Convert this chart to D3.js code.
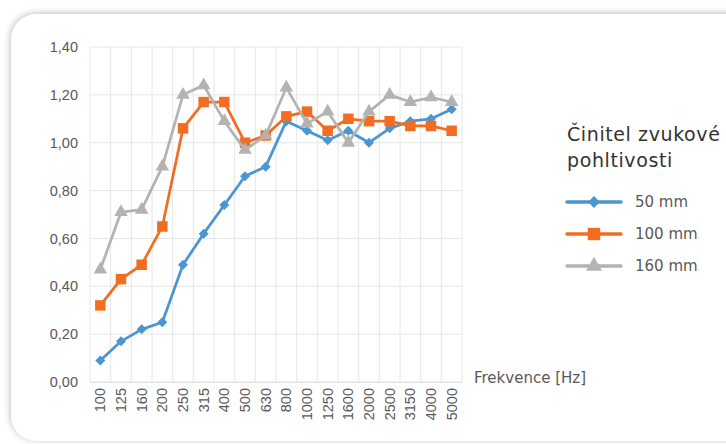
<!DOCTYPE html>
<html>
<head>
<meta charset="utf-8">
<script src="https://cdn.jsdelivr.net/npm/d3@7"></script>
<style>
  body { margin: 0; background: #fff; }
  svg { display: block; font-family: "DejaVu Sans", sans-serif; }
</style>
</head>
<body>
<svg></svg>
<script>
// Chart dimensions
const width = 726;
const height = 444;

// Data
const freqs = ["100", "125", "160", "200", "250", "315", "400", "500", "630", "800",
    "1000", "1250", "1600", "2000", "2500", "3150", "4000", "5000"];
const mm50 = [0.09, 0.17, 0.22, 0.25, 0.49, 0.62, 0.74, 0.86, 0.90, 1.09,
    1.05, 1.01, 1.05, 1.00, 1.06, 1.09, 1.10, 1.14];
const mm100 = [0.32, 0.43, 0.49, 0.65, 1.06, 1.17, 1.17, 1.00, 1.03, 1.11,
    1.13, 1.05, 1.10, 1.09, 1.09, 1.07, 1.07, 1.05];
const mm160 = [0.47, 0.71, 0.72, 0.90, 1.20, 1.24, 1.09, 0.97, 1.03, 1.23,
    1.08, 1.13, 1.00, 1.13, 1.20, 1.17, 1.19, 1.17];
const seriesNames = ["50 mm", "100 mm", "160 mm"];
const yTicks = [0, 0.2, 0.4, 0.6, 0.8, 1.0, 1.2, 1.4];

const series = [
    { name: seriesNames[0], values: mm50, color: "#4a96d2", symbol: d3.symbolSquare, size: 50, rot: 45 },
    { name: seriesNames[1], values: mm100, color: "#f26c21", symbol: d3.symbolSquare, size: 110, rot: 0 },
    { name: seriesNames[2], values: mm160, color: "#b3b3b3", symbol: d3.symbolTriangle, size: 80, rot: 0 }
];

const svg = d3.select("svg")
    .attr("width", width)
    .attr("height", height);

// Card with shadow
const defs = svg.append("defs");
const filter = defs.append("filter").attr("id", "shadow")
    .attr("x", "-10%").attr("y", "-10%").attr("width", "130%").attr("height", "130%");
filter.append("feDropShadow")
    .attr("dx", -1).attr("dy", -1)
    .attr("stdDeviation", 3)
    .attr("flood-color", "#000")
    .attr("flood-opacity", 0.25);

svg.append("rect")
    .attr("x", 11).attr("y", 14)
    .attr("width", 760).attr("height", 427)
    .attr("rx", 26).attr("ry", 26)
    .attr("fill", "#fff")
    .attr("filter", "url(#shadow)");

// Plot area
const margin = { left: 90, top: 47, right: 462, bottom: 382 };

const x = d3.scaleBand()
    .domain(freqs)
    .range([margin.left, margin.right]);

const y = d3.scaleLinear()
    .domain([0, 1.4])
    .range([margin.bottom, margin.top]);

const fmt = v => d3.format(".2f")(v).replace(".", ",");

// Grid
const grid = svg.append("g");
grid.selectAll(".hgrid")
    .data(yTicks)
    .enter()
    .append("line")
    .attr("x1", margin.left).attr("x2", margin.right)
    .attr("y1", d => y(d)).attr("y2", d => y(d))
    .style("stroke", "#e6e6e6")
    .style("stroke-width", 1);

grid.selectAll(".vgrid")
    .data(freqs.concat(["end"]))
    .enter()
    .append("line")
    .attr("x1", (d, i) => i < freqs.length ? x(d) : margin.right)
    .attr("x2", (d, i) => i < freqs.length ? x(d) : margin.right)
    .attr("y1", margin.top).attr("y2", margin.bottom)
    .style("stroke", "#e6e6e6")
    .style("stroke-width", 1);

// Y axis
const yAxis = svg.append("g")
    .attr("transform", `translate(${margin.left - 9},0)`)
    .call(d3.axisLeft(y).tickValues(yTicks).tickFormat(fmt).tickSize(0));
yAxis.select(".domain").remove();
yAxis.selectAll("text")
    .style("font-size", "14.5px")
    .style("fill", "#595959");

// X axis
const xAxis = svg.append("g")
    .attr("transform", `translate(0,${margin.bottom})`)
    .call(d3.axisBottom(x).tickSize(0));
xAxis.select(".domain").style("stroke", "#e0e0e0");
xAxis.selectAll("text")
    .attr("transform", "rotate(-90)")
    .attr("text-anchor", "end")
    .attr("x", -6)
    .attr("y", 0)
    .attr("dy", "0.35em")
    .style("font-size", "14.5px")
    .style("fill", "#595959");

svg.append("text")
    .attr("x", 474)
    .attr("y", 383)
    .style("font-size", "15px")
    .style("fill", "#595959")
    .text("Frekvence [Hz]");

// Lines and markers
const line = d3.line()
    .x((d, i) => x(freqs[i]) + x.bandwidth() / 2)
    .y(d => y(d));

series.forEach(s => {
    svg.append("path")
        .datum(s.values)
        .attr("d", line)
        .attr("fill", "none")
        .style("stroke", s.color)
        .style("stroke-width", 2.75)
        .style("stroke-linejoin", "round");

    svg.append("g").selectAll("path")
        .data(s.values)
        .enter()
        .append("path")
        .attr("transform", (d, i) => `translate(${x(freqs[i]) + x.bandwidth() / 2},${y(d)}) rotate(${s.rot})`)
        .attr("d", d3.symbol().type(s.symbol).size(s.size))
        .attr("fill", s.color);
});

// Legend
const legend = svg.append("g");
legend.append("text")
    .attr("x", 567).attr("y", 141)
    .style("font-size", "19px")
    .style("letter-spacing", "0.6px")
    .style("fill", "#333")
    .text("Činitel zvukové");
legend.append("text")
    .attr("x", 567).attr("y", 167)
    .style("font-size", "19px")
    .style("letter-spacing", "0.6px")
    .style("fill", "#333")
    .text("pohltivosti");

series.forEach((s, i) => {
    const ly = 202 + i * 32;
    legend.append("line")
        .attr("x1", 567).attr("x2", 621)
        .attr("y1", ly).attr("y2", ly)
        .style("stroke", s.color)
        .style("stroke-width", 3.5)
        .style("stroke-linecap", "round");
    legend.append("path")
        .attr("transform", `translate(594,${ly}) rotate(${s.rot})`)
        .attr("d", d3.symbol().type(s.symbol).size(s.size * 1.4))
        .attr("fill", s.color);
    legend.append("text")
        .attr("x", 635).attr("y", ly)
        .attr("dy", "0.35em")
        .style("font-size", "15px")
        .style("fill", "#595959")
        .text(s.name);
});
</script>
</body>
</html>
